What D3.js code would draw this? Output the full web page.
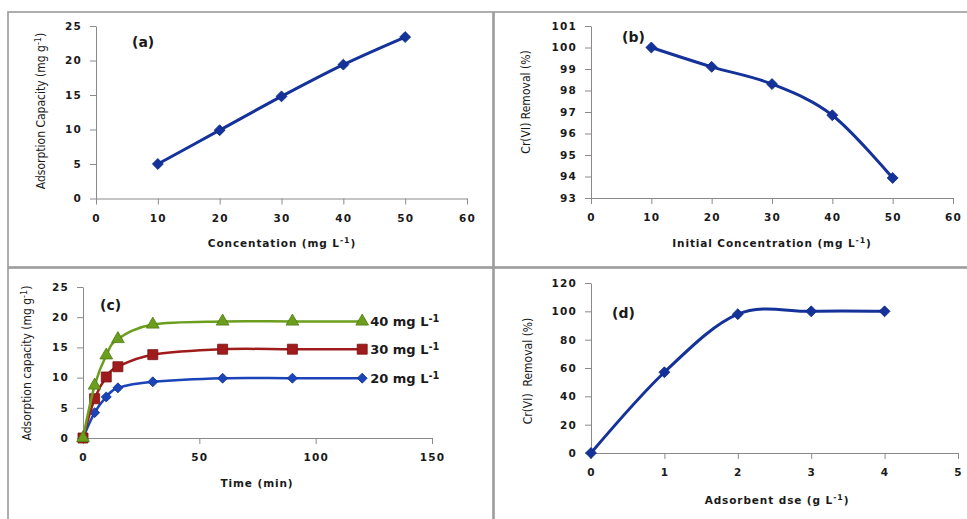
<!DOCTYPE html>
<html>
<head>
<meta charset="utf-8">
<script src="https://cdn.jsdelivr.net/npm/d3@7"></script>
<style>
    body { margin: 0; background: #fff; }
    svg { display: block; }
    .tick text { font-family: "DejaVu Sans", Verdana, sans-serif; font-weight: bold; font-size: 10.5px; letter-spacing: 1.2px; fill: #1a1a1a; }
    .axis path, .axis line { stroke: #8a8a8a; }
    .ytitle { font-family: "Liberation Sans Narrow", "Arial Narrow", "DejaVu Sans Condensed", sans-serif; font-size: 12px; fill: #1a1a1a; }
    .xtitle { font-family: "DejaVu Sans", Verdana, sans-serif; font-weight: bold; font-size: 10.5px; letter-spacing: 0.9px; fill: #1a1a1a; }
    .plabel { font-family: "DejaVu Sans", Verdana, sans-serif; font-weight: bold; font-size: 14px; fill: #1a1a1a; }
    .slabel { font-family: "DejaVu Sans", Verdana, sans-serif; font-weight: bold; font-size: 13px; fill: #1a1a1a; }
</style>
</head>
<body>
<div id="container"></div>
<script>
"use strict";

// (a) adsorption capacity vs concentration
var concA = [10, 20, 30, 40, 50];
var capacityA = [5.0, 9.9, 14.8, 19.4, 23.4];

// (b) removal vs initial concentration
var concB = [10, 20, 30, 40, 50];
var removalB = [100.0, 99.1, 98.3, 96.85, 93.93];

// (c) kinetics
var timeC = [0, 5, 10, 15, 30, 60, 90, 120];
var cap20 = [0, 4.2, 6.8, 8.3, 9.3, 9.9, 9.9, 9.9];
var cap30 = [0, 6.5, 10.1, 11.8, 13.8, 14.7, 14.7, 14.7];
var cap40 = [0, 8.7, 13.7, 16.4, 18.8, 19.3, 19.3, 19.3];
var seriesNamesC = ["20 mg L", "30 mg L", "40 mg L"];

// (d) removal vs adsorbent dose
var doseD = [0, 1, 2, 3, 4];
var removalD = [0, 57, 98, 100, 100];

// tick labels
var ticksXA = [0, 10, 20, 30, 40, 50, 60];
var ticksYA = [0, 5, 10, 15, 20, 25];
var ticksXB = [0, 10, 20, 30, 40, 50, 60];
var ticksYB = [93, 94, 95, 96, 97, 98, 99, 100, 101];
var ticksXC = [0, 50, 100, 150];
var ticksYC = [0, 5, 10, 15, 20, 25];
var ticksXD = [0, 1, 2, 3, 4, 5];
var ticksYD = [0, 20, 40, 60, 80, 100, 120];

var svg = d3.select("#container").append("svg")
    .attr("width", 967)
    .attr("height", 519);

// panel frames
var frames = [[8, 12, 485, 255], [494, 12, 480, 255], [8, 268, 485, 260], [494, 268, 480, 260]];
svg.selectAll(".frame")
    .data(frames)
    .enter().append("rect")
        .attr("class", "frame")
        .attr("x", function(d) { return d[0]; })
        .attr("y", function(d) { return d[1]; })
        .attr("width", function(d) { return d[2]; })
        .attr("height", function(d) { return d[3]; })
        .attr("fill", "none")
        .attr("stroke", "#9a9a9a")
        .attr("stroke-width", 1.6);

function withSup(sel, before, sup, after) {
    sel.append("tspan").text(before);
    sel.append("tspan").attr("dy", -4).attr("font-size", "0.75em").text(sup);
    if (after) {
        sel.append("tspan").attr("dy", 4).text(after);
    }
}

function makePanel(cfg) {
    var x = d3.scaleLinear().domain(cfg.xDomain).range(cfg.xRange),
        y = d3.scaleLinear().domain(cfg.yDomain).range(cfg.yRange);

    svg.append("g")
        .attr("class", "axis")
        .attr("transform", "translate(0," + cfg.yRange[0] + ")")
        .call(d3.axisBottom(x).tickValues(cfg.xTicks).tickFormat(d3.format("d"))
            .tickSize(6).tickSizeOuter(0).tickPadding(8))
        .call(function(g) { g.selectAll("text").attr("dy", "0.9em"); });

    svg.append("g")
        .attr("class", "axis")
        .attr("transform", "translate(" + cfg.xRange[0] + ",0)")
        .call(d3.axisLeft(y).tickValues(cfg.yTicks).tickFormat(d3.format("d"))
            .tickSize(6).tickSizeOuter(0).tickPadding(8));

    var xt = svg.append("text")
        .attr("class", "xtitle")
        .attr("text-anchor", "middle")
        .attr("x", cfg.xTitlePos[0])
        .attr("y", cfg.xTitlePos[1]);
    if (cfg.xTitle[1]) {
        withSup(xt, cfg.xTitle[0], cfg.xTitle[1], cfg.xTitle[2]);
    } else {
        xt.text(cfg.xTitle[0]);
    }

    var yt = svg.append("text")
        .attr("class", "ytitle")
        .attr("text-anchor", "middle")
        .attr("transform", "translate(" + cfg.yTitlePos[0] + "," + cfg.yTitlePos[1] + ") rotate(-90)")
        .attr("xml:space", "preserve");
    if (cfg.yTitle[1]) {
        withSup(yt, cfg.yTitle[0], cfg.yTitle[1], cfg.yTitle[2]);
    } else {
        yt.text(cfg.yTitle[0]);
    }

    svg.append("text")
        .attr("class", "plabel")
        .attr("x", cfg.labelPos[0])
        .attr("y", cfg.labelPos[1])
        .text(cfg.label);

    return { x: x, y: y };
}

function drawSeries(p, xs, ys, color, edge, shape, size, width) {
    var pts = xs.map(function(v, i) { return [v, ys[i]]; });
    var line = d3.line()
        .x(function(d) { return p.x(d[0]); })
        .y(function(d) { return p.y(d[1]); })
        .curve(d3.curveCardinal.tension(0));

    svg.append("path")
        .datum(pts)
        .attr("fill", "none")
        .attr("stroke", color)
        .attr("stroke-width", width)
        .attr("d", line);

    svg.append("g").selectAll("path")
        .data(pts)
        .enter().append("path")
            .attr("d", d3.symbol().type(shape).size(size))
            .attr("transform", function(d) {
                return "translate(" + p.x(d[0]) + "," + p.y(d[1]) + ")";
            })
            .attr("fill", color)
            .attr("stroke", edge)
            .attr("stroke-width", 0.8);
}

// Excel style diamond (square turned 45 degrees)
var diamond = {
    draw: function(ctx, size) {
        var r = Math.sqrt(size / 2);
        ctx.moveTo(0, -r);
        ctx.lineTo(r, 0);
        ctx.lineTo(0, r);
        ctx.lineTo(-r, 0);
        ctx.closePath();
    }
};

var pa = makePanel({
    xDomain: [0, 60], xRange: [96, 467],
    yDomain: [0, 25], yRange: [198.5, 26],
    xTicks: ticksXA, yTicks: ticksYA,
    xTitle: ["Concentation (mg L", "-1", ")"], xTitlePos: [282, 247],
    yTitle: ["Adsorption Capacity (mg g", "-1", ")"], yTitlePos: [45, 111],
    label: "(a)", labelPos: [132, 47]
});
drawSeries(pa, concA, capacityA, "#14329a", "#0e2a80", diamond, 60, 3);

var pb = makePanel({
    xDomain: [0, 60], xRange: [591, 953],
    yDomain: [93, 101], yRange: [198, 26],
    xTicks: ticksXB, yTicks: ticksYB,
    xTitle: ["Initial Concentration (mg L", "-1", ")"], xTitlePos: [772, 247],
    yTitle: ["Cr(VI) Removal (%)"], yTitlePos: [530, 102],
    label: "(b)", labelPos: [622, 42]
});
drawSeries(pb, concB, removalB, "#14329a", "#0e2a80", diamond, 60, 3);

var pc = makePanel({
    xDomain: [0, 150], xRange: [83, 432],
    yDomain: [0, 25], yRange: [438, 287],
    xTicks: ticksXC, yTicks: ticksYC,
    xTitle: ["Time (min)"], xTitlePos: [257, 487],
    yTitle: ["Adsorption capacity (mg g", "-1", ")"], yTitlePos: [31, 363],
    label: "(c)", labelPos: [100, 310]
});
drawSeries(pc, timeC, cap20, "#1a44b8", "#10308a", diamond, 50, 2.5);
drawSeries(pc, timeC, cap30, "#a01c1c", "#7a1010", d3.symbolSquare, 100, 2.5);
drawSeries(pc, timeC, cap40, "#6c9e1e", "#4c7a10", d3.symbolTriangle, 70, 2.5);

var seriesLast = [cap20, cap30, cap40];
svg.append("g").selectAll("text")
    .data(seriesNamesC)
    .enter().append("text")
        .attr("class", "slabel")
        .attr("x", pc.x(timeC[timeC.length - 1]) + 8)
        .attr("y", function(d, i) {
            var v = seriesLast[i][seriesLast[i].length - 1];
            return pc.y(v) + 5;
        })
        .each(function(d) {
            withSup(d3.select(this), d, "-1");
        });

var pd = makePanel({
    xDomain: [0, 5], xRange: [591, 958],
    yDomain: [0, 120], yRange: [453, 283],
    xTicks: ticksXD, yTicks: ticksYD,
    xTitle: ["Adsorbent dse (g L", "-1", ")"], xTitlePos: [777, 504],
    yTitle: ["Cr(VI)  Removal (%)"], yTitlePos: [532, 371],
    label: "(d)", labelPos: [612, 318]
});
drawSeries(pd, doseD, removalD, "#14329a", "#0e2a80", diamond, 60, 3);
</script>
</body>
</html>
